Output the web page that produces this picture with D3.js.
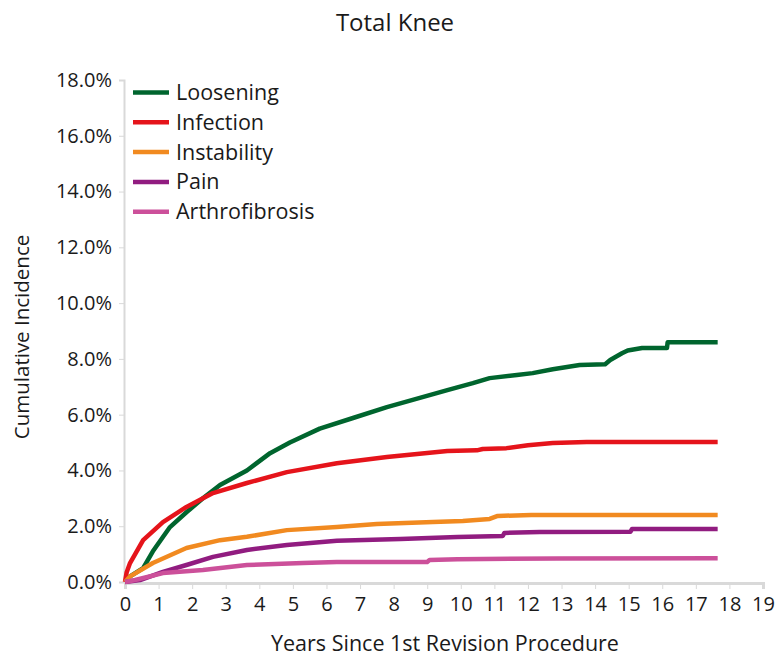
<!DOCTYPE html>
<html><head><meta charset="utf-8">
<script src="https://cdn.jsdelivr.net/npm/d3@7"></script>
<style>body{margin:0;background:#fff}svg{display:block}text{font-family:"Open Sans","Noto Sans",sans-serif;fill:#1a1a1a}</style>
</head><body><div id="chart"></div>
<script>
const title = "Total Knee";
const xTitle = "Years Since 1st Revision Procedure";
const yTitle = "Cumulative Incidence";
const seriesNames = ["Loosening","Infection","Instability","Pain","Arthrofibrosis"];
const seriesColors = ["#00652e","#e5141b","#f18a20","#911c80","#cc509a"];
const xTicks = d3.range(0,20);
const yTicks = [0,2,4,6,8,10,12,14,16,18];

const loosening = [[0,0],[0.15,0.2],[0.54,0.5],[0.83,1.1],[1.34,1.97],[1.83,2.5],[2.32,3.0],[2.83,3.48],[3.63,4.0],[4.32,4.62],[4.91,5.0],[5.8,5.5],[6.79,5.88],[7.8,6.27],[8.78,6.6],[9.6,6.88],[10.36,7.13],[10.86,7.31],[11.67,7.42],[12.14,7.49],[12.74,7.63],[13.54,7.78],[14.3,7.81],[14.45,7.96],[14.8,8.2],[14.97,8.3],[15.4,8.39],[16.14,8.39],[16.16,8.6],[17.65,8.6]];
const infection = [[0,0],[0.05,0.35],[0.15,0.68],[0.54,1.5],[1.13,2.15],[1.83,2.69],[2.62,3.19],[3.63,3.55],[4.82,3.94],[6.31,4.26],[7.8,4.48],[9.6,4.7],[10.48,4.72],[10.65,4.77],[11.36,4.8],[12.0,4.9],[12.74,4.98],[13.75,5.02],[17.65,5.02]];
const instability = [[0,0],[0.15,0.2],[0.83,0.68],[1.83,1.22],[2.83,1.5],[3.63,1.62],[4.82,1.86],[6.31,1.97],[7.5,2.08],[9.17,2.15],[10.06,2.19],[10.86,2.26],[11.1,2.37],[12.1,2.4],[17.65,2.4]];
const pain = [[0,0],[0.45,0.07],[1.13,0.36],[1.83,0.61],[2.62,0.9],[3.63,1.15],[4.82,1.33],[6.31,1.48],[8.2,1.54],[9.9,1.61],[11.25,1.65],[11.3,1.76],[12.35,1.79],[15.05,1.8],[15.1,1.9],[17.65,1.9]];
const arthrofibrosis = [[0,0],[0.3,0.07],[1.13,0.32],[2.32,0.43],[3.63,0.61],[5.3,0.68],[6.31,0.72],[9.0,0.72],[9.07,0.79],[9.9,0.82],[12.86,0.84],[17.65,0.85]];
const seriesData = [loosening, infection, instability, pain, arthrofibrosis];

const W = 777, H = 659;
const svg = d3.select("#chart").append("svg").attr("width",W).attr("height",H);

const x = d3.scaleLinear().domain([0,19]).range([125,763]);
const y = d3.scaleLinear().domain([0,18]).range([582,80]);

// axes
const yAxis = svg.append("g").attr("transform","translate(124,0)")
  .call(d3.axisLeft(y).tickValues(yTicks).tickSize(5).tickFormat(d=>d.toFixed(1)+"%").tickPadding(7));
yAxis.select(".domain").attr("stroke","#d9d9d9").attr("stroke-width",2);
yAxis.selectAll(".tick line").attr("stroke","#d9d9d9");
yAxis.selectAll("text").style("font-size","20px").attr("fill","#1a1a1a");

const xAxis = svg.append("g").attr("transform","translate(0,583)")
  .call(d3.axisBottom(x).tickValues(xTicks).tickSize(6).tickFormat(d3.format("d")).tickPadding(8));
xAxis.select(".domain").attr("stroke","#d9d9d9").attr("stroke-width",3);
xAxis.selectAll(".tick line").attr("stroke","#d9d9d9");
xAxis.selectAll("text").style("font-size","20px").attr("fill","#1a1a1a");

// lines
const line = d3.line().x(d=>x(d[0])).y(d=>y(d[1]));
seriesData.forEach((s,i)=>{
  svg.append("path").datum(s).attr("d",line).attr("fill","none")
    .attr("stroke",seriesColors[i]).attr("stroke-width",4.5).attr("stroke-linejoin","round");
});

// legend
const lg = svg.append("g");
seriesNames.forEach((n,i)=>{
  const yy = 92.5 + i*29.8;
  lg.append("line").attr("x1",133).attr("x2",169).attr("y1",yy).attr("y2",yy)
    .attr("stroke",seriesColors[i]).attr("stroke-width",4.5);
  lg.append("text").attr("x",176).attr("y",yy+7.5).style("font-size","21.5px").text(n);
});

svg.append("text").attr("x",395).attr("y",31).attr("text-anchor","middle").style("font-size","24px").text(title);
svg.append("text").attr("x",445).attr("y",651).attr("text-anchor","middle").style("font-size","21.5px").text(xTitle);
svg.append("text").attr("transform","translate(29,337) rotate(-90)").attr("text-anchor","middle").style("font-size","20.5px").text(yTitle);
</script></body></html>
